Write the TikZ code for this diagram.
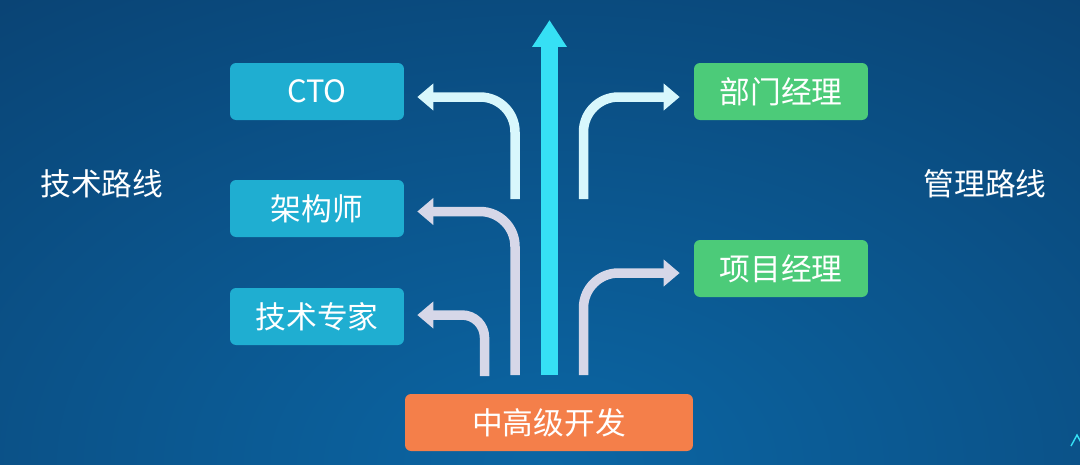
\documentclass[tikz,border=0pt]{standalone}
\usepackage{fontspec}
\setmainfont{Noto Sans CJK SC}
\usetikzlibrary{arrows.meta,calc}
\definecolor{bgtop}{RGB}{10,57,102}
\definecolor{bgbot}{RGB}{11,102,164}
\definecolor{techbox}{RGB}{31,174,209}
\definecolor{mgmtbox}{RGB}{76,203,121}
\definecolor{devbox}{RGB}{244,127,74}
\definecolor{arrlight}{RGB}{216,247,252}
\definecolor{arrlav}{RGB}{214,215,232}
\definecolor{arrcyan}{RGB}{54,224,245}
\begin{document}
\begin{tikzpicture}[x=0.02cm,y=-0.02cm,
  txt/.style={text=white,font=\fontsize{17.5}{20}\selectfont},
  box/.style={txt,rounded corners=0.12cm,minimum width=3.48cm,minimum height=1.14cm,inner sep=0pt},
  techb/.style={box,fill=techbox},
  mgmtb/.style={box,fill=mgmtbox},
  devb/.style={box,fill=devbox,minimum width=5.76cm},
  branch/.style={line width=0.19cm,rounded corners=0.7cm,-{Triangle[length=0.32cm,width=0.52cm]}},
  branchs/.style={branch,rounded corners=0.45cm},
  lightarr/.style={branch,draw=arrlight},
  lavarr/.style={branch,draw=arrlav},
  lavarrs/.style={branchs,draw=arrlav},
  mainarr/.style={line width=0.34cm,draw=arrcyan,-{Triangle[length=0.54cm,width=0.66cm]}}
]
\useasboundingbox (0,0) rectangle (1080,464);
\begin{scope}
\clip (0,0) rectangle (1080,464);
\fill[bgtop] (0,0) rectangle (1080,464);
\shade[inner color=bgbot, outer color=bgtop] (-650,-300) rectangle (1750,1230);
\end{scope}

% nodes
\node[techb] (cto) at (317,91.5) {CTO};
\node[techb] (arch) at (317,208.5) {架构师};
\node[techb] (expert) at (317,316.5) {技术专家};
\node[mgmtb] (dept) at (781,91.5) {部门经理};
\node[mgmtb] (proj) at (781,268.5) {项目经理};
\node[devb] (dev) at (549,422.5) {中高级开发};
\node[txt] (tech) at (102,184) {技术路线};
\node[txt] (mgmt) at (985,184) {管理路线};

% start coordinates
\coordinate (s1) at (515,199);
\coordinate (s2) at (583.5,199);
\coordinate (s3) at (515,375);
\coordinate (s4) at (484.5,376);
\coordinate (s5) at (583.5,375);
\coordinate (s0) at (549.5,375);
\coordinate (top) at (549.5,20);

% arrows
\draw[mainarr] (s0) -- (top);
\draw[lightarr] (s1) |- ($(cto.east)+(13,5.5)$);
\draw[lightarr] (s2) |- ($(dept.west)+(-14,5.5)$);
\draw[lavarr] (s3) |- ($(arch.east)+(13,3)$);
\draw[lavarrs] (s4) |- ($(expert.east)+(13,-1.5)$);
\draw[lavarr] (s5) |- ($(proj.west)+(-14,4.5)$);

% corner mark
\draw[arrcyan,line width=0.8pt] (1071,446) -- (1077,435) -- (1083,446);
\end{tikzpicture}
\end{document}
